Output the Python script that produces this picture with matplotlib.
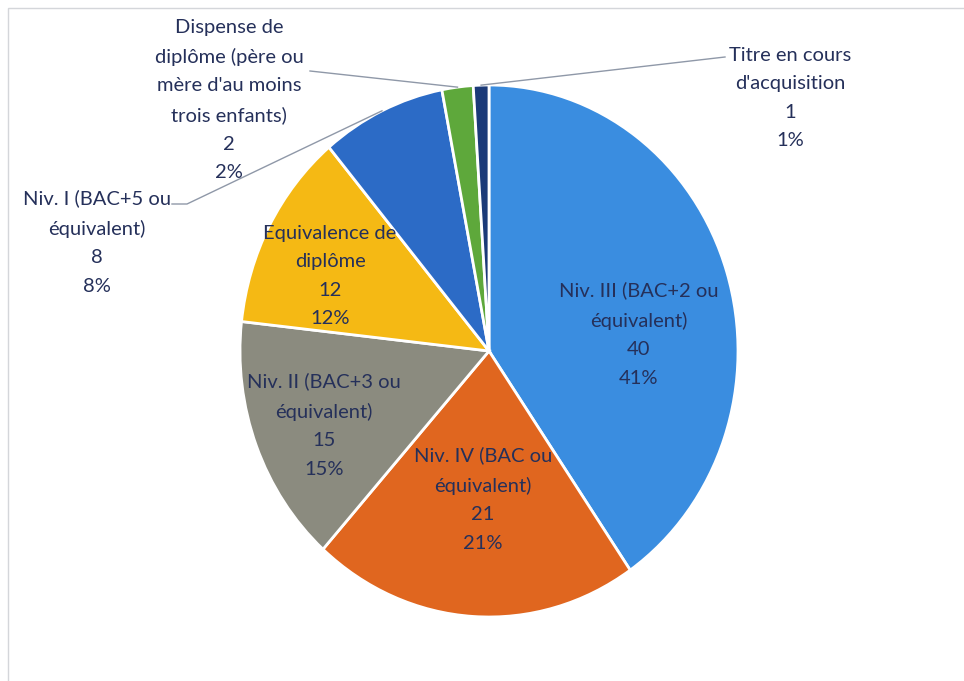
import matplotlib
matplotlib.use("Agg")
import matplotlib.pyplot as plt
import numpy as np
from matplotlib.patches import Rectangle

# data
names = [
    "Niv. III (BAC+2 ou\néquivalent)",
    "Niv. IV (BAC ou\néquivalent)",
    "Niv. II (BAC+3 ou\néquivalent)",
    "Equivalence de\ndiplôme",
    "Niv. I (BAC+5 ou\néquivalent)",
    "Dispense de\ndiplôme (père ou\nmère d'au moins\ntrois enfants)",
    "Titre en cours\nd'acquisition",
]
values = [40, 21, 15, 12, 8, 2, 1]
pct_labels = ["41%", "21%", "15%", "12%", "8%", "2%", "1%"]
colors = ["#3a8de0", "#e0661f", "#8b8b7f", "#f5b914", "#2c6bc6", "#5ea83b", "#1b3a78"]

# layout (pixels of the 964x681 picture)
W, H = 964, 681
cx, cy = 489, 351          # pie centre
rx, ry = 249, 266          # the scan is slightly stretched vertically
label_px = [(639, 334), (483, 499), (324, 425), (330, 276),
            (97, 242), (229, 100), (790, 98)]
outside = [False, False, False, False, True, True, True]
# where the leader line leaves the label (px)
leader_start = {4: [(172, 204), (187, 204)], 5: [(310, 71)], 6: [(725, 57)]}

text_color = "#25305a"
font = ["Lato", "DejaVu Sans"]


def to_data(px, py):
    return (px - cx) / rx, (cy - py) / ry


fig = plt.figure(figsize=(W / 100, H / 100), dpi=100)
ax = fig.add_axes([0, 0, 1, 1])

wedges, _ = ax.pie(
    values,
    colors=colors,
    startangle=90,
    counterclock=False,
    radius=1,
    wedgeprops=dict(edgecolor="white", linewidth=2),
)
ax.set_aspect("auto")
ax.set_xlim(-cx / rx, (W - cx) / rx)
ax.set_ylim((cy - H) / ry, cy / ry)
ax.axis("off")

for i, w in enumerate(wedges):
    txt = f"{names[i]}\n{values[i]}\n{pct_labels[i]}"
    x, y = to_data(*label_px[i])
    ax.text(x, y, txt, ha="center", va="center", fontsize=14.5,
            family=font, color=text_color, linespacing=1.82)
    if outside[i]:
        mid = np.deg2rad((w.theta1 + w.theta2) / 2)
        pts = [to_data(*p) for p in leader_start[i]]
        pts.append((np.cos(mid), np.sin(mid)))
        xs, ys = zip(*pts)
        ax.plot(xs, ys, color="#8f98a8", lw=1)

# light chart border
fig.patches.append(Rectangle((8 / W, -0.01), (W - 4) / W, 1 - 8 / H + 0.01,
                             transform=fig.transFigure, fill=False,
                             edgecolor="#d4d6da", lw=1))

fig.savefig("out.png", dpi=100, facecolor="white")
